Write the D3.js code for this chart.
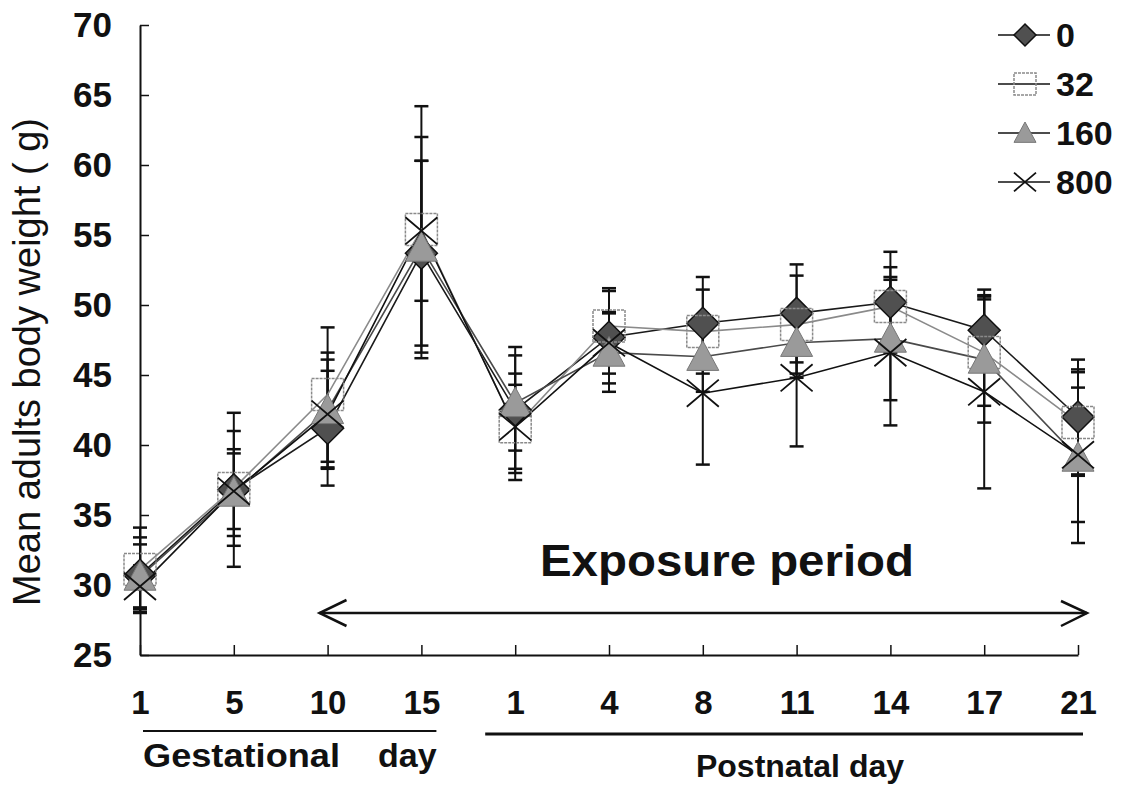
<!DOCTYPE html>
<html>
<head>
<meta charset="utf-8">
<script src="https://cdn.jsdelivr.net/npm/d3@7"></script>
<style>
  body { margin: 0; background: #fff; }
  svg { display: block; }
  text { fill: #111; }
</style>
</head>
<body>
<div id="chart"></div>
<script>
// day labels along the x axis (gestational 1-15, then postnatal 1-21)
const dayLabels = ['1', '5', '10', '15', '1', '4', '8', '11', '14', '17', '21'];
const doses = ['0', '32', '160', '800'];

// mean body weight (g) per dose group
const mean0   = [30.7, 36.8, 41.2, 53.7, 42.5, 47.7, 48.7, 49.4, 50.2, 48.2, 42.0];
const mean32  = [31.1, 36.9, 43.6, 55.4, 41.3, 48.5, 48.1, 48.6, 49.9, 46.6, 41.6];
const mean160 = [30.6, 36.6, 42.5, 54.1, 43.0, 46.6, 46.3, 47.3, 47.6, 46.1, 39.1];
const mean800 = [29.9, 36.7, 42.2, 55.3, 41.3, 47.3, 43.7, 44.8, 46.6, 43.8, 39.3];

// standard deviations
const sd0   = [2.7, 5.5, 4.1, 6.6, 4.5, 3.3, 3.3, 3.5, 3.6, 2.9, 4.1];
const sd32  = [3.0, 4.1, 4.8, 8.8, 3.8, 2.7, 3.0, 3.5, 2.8, 3.8, 3.8];
const sd160 = [2.3, 3.1, 4.1, 7.9, 3.4, 2.8, 2.5, 2.5, 4.4, 4.5, 6.1];
const sd800 = [1.5, 2.7, 3.9, 5.0, 3.0, 2.2, 5.1, 4.9, 5.2, 6.9, 4.8];

const yTicks = [25, 30, 35, 40, 45, 50, 55, 60, 65, 70];

const width = 1127, height = 788;
const svg = d3.select('#chart').append('svg')
    .attr('width', width)
    .attr('height', height);

const x = d3.scalePoint().domain(d3.range(dayLabels.length)).range([140, 1078]);
const y = d3.scaleLinear().domain([25, 70]).range([655, 25]);

const series = [
    {name: doses[0], mean: mean0, sd: sd0, shape: 'diamond', line: '#1a1a1a'},
    {name: doses[1], mean: mean32, sd: sd32, shape: 'square', line: '#8a8a8a'},
    {name: doses[2], mean: mean160, sd: sd160, shape: 'triangle', line: '#4a4a4a'},
    {name: doses[3], mean: mean800, sd: sd800, shape: 'cross', line: '#111'}
];

const sans = '"Liberation Sans", Arial, sans-serif';

// axes
const yAxis = svg.append('g')
    .attr('transform', `translate(${x(0)},0)`)
    .call(d3.axisLeft(y).tickValues(yTicks).tickSizeInner(-9).tickSizeOuter(0).tickPadding(28));
yAxis.selectAll('text')
    .style('font-family', sans)
    .style('font-weight', 'bold')
    .style('font-size', '35px');

const xAxis = svg.append('g')
    .attr('transform', `translate(0,${y(25)})`)
    .call(d3.axisBottom(x).tickFormat(i => dayLabels[i]).tickSizeInner(-10).tickSizeOuter(0).tickPadding(36));
xAxis.selectAll('text')
    .style('font-family', sans)
    .style('font-weight', 'bold')
    .style('font-size', '33px');

svg.selectAll('.domain').attr('stroke', '#111').attr('stroke-width', 2);
svg.selectAll('.tick line').attr('stroke', '#111').attr('stroke-width', 1.5);

// y axis title
svg.append('text')
    .attr('transform', `translate(40,362) rotate(-90)`)
    .attr('text-anchor', 'middle')
    .style('font-family', sans)
    .style('font-size', '38px')
    .text('Mean adults body weight ( g)');

// period brackets under the x axis
const under = svg.append('g').attr('stroke', '#111');
under.append('line')
    .attr('x1', x(0) + 3).attr('x2', x(3) + 15)
    .attr('y1', 731).attr('y2', 731)
    .attr('stroke-width', 2);
under.append('line')
    .attr('x1', x(4) - 30).attr('x2', x(10) + 5)
    .attr('y1', 734).attr('y2', 734)
    .attr('stroke-width', 3);

svg.append('text')
    .attr('x', 143).attr('y', 767)
    .attr('textLength', 197).attr('lengthAdjust', 'spacingAndGlyphs')
    .style('font-family', sans)
    .style('font-weight', 'bold')
    .style('font-size', '34px')
    .text('Gestational');
svg.append('text')
    .attr('x', 378).attr('y', 767)
    .style('font-family', sans)
    .style('font-weight', 'bold')
    .style('font-size', '34px')
    .text('day');
svg.append('text')
    .attr('x', 800).attr('y', 777)
    .attr('text-anchor', 'middle')
    .style('font-family', sans)
    .style('font-weight', 'bold')
    .style('font-size', '32px')
    .text('Postnatal day');

// exposure period arrow
const arrowY = 613;
const ax1 = (x(2) + x(3)) / 2 - 55, ax2 = x(10) + 9;
const arrow = svg.append('g').attr('stroke', '#111').attr('fill', 'none').attr('stroke-width', 2.5);
arrow.append('line').attr('x1', ax1).attr('x2', ax2).attr('y1', arrowY).attr('y2', arrowY);
arrow.append('path').attr('d', `M${ax1 + 27},${arrowY - 13}L${ax1},${arrowY}L${ax1 + 27},${arrowY + 13}`);
arrow.append('path').attr('d', `M${ax2 - 26},${arrowY - 12}L${ax2},${arrowY}L${ax2 - 26},${arrowY + 13}`);

svg.append('text')
    .attr('x', 540).attr('y', 576)
    .attr('textLength', 374).attr('lengthAdjust', 'spacingAndGlyphs')
    .style('font-family', sans)
    .style('font-weight', 'bold')
    .style('font-size', '45px')
    .text('Exposure period');

// marker drawing
function drawMarker(g, shape, s) {
    if (shape === 'diamond') {
        g.append('path')
            .attr('d', `M0,${-s}L${s},0L0,${s}L${-s},0Z`)
            .attr('fill', '#505050').attr('stroke', '#111').attr('stroke-width', 1.5);
    } else if (shape === 'square') {
        g.append('rect')
            .attr('x', -s).attr('y', -s).attr('width', 2 * s).attr('height', 2 * s)
            .attr('fill', 'none').attr('stroke', '#8a8a8a').attr('stroke-width', 1.5)
            .attr('stroke-dasharray', '3,1');
    } else if (shape === 'triangle') {
        g.append('path')
            .attr('d', `M0,${-s}L${s},${s * 0.85}L${-s},${s * 0.85}Z`)
            .attr('fill', '#9a9a9a').attr('stroke', '#777').attr('stroke-width', 1);
    } else {
        g.append('path')
            .attr('d', `M${-s},${-s * 0.85}L${s},${s * 0.85}M${-s},${s * 0.85}L${s},${-s * 0.85}`)
            .attr('stroke', '#111').attr('stroke-width', 1.8).attr('fill', 'none');
    }
}

// error bars
const bars = svg.append('g').attr('stroke', '#111');
series.forEach(sr => {
    sr.mean.forEach((m, i) => {
        const g = bars.append('g');
        g.append('line')
            .attr('x1', x(i)).attr('x2', x(i))
            .attr('y1', y(m + sr.sd[i])).attr('y2', y(m - sr.sd[i]))
            .attr('stroke-width', 2);
        [m + sr.sd[i], m - sr.sd[i]].forEach(v => {
            g.append('line')
                .attr('x1', x(i) - 7).attr('x2', x(i) + 7)
                .attr('y1', y(v)).attr('y2', y(v))
                .attr('stroke-width', 2.5);
        });
    });
});

// lines
const line = d3.line().x((d, i) => x(i)).y(d => y(d));
series.forEach(sr => {
    svg.append('path')
        .datum(sr.mean)
        .attr('d', line)
        .attr('fill', 'none')
        .attr('stroke', sr.line)
        .attr('stroke-width', 1.6);
});

// markers
series.forEach(sr => {
    svg.append('g').selectAll('g')
        .data(sr.mean)
        .join('g')
        .attr('transform', (d, i) => `translate(${x(i)},${y(d)})`)
        .each(function () { drawMarker(d3.select(this), sr.shape, 16); });
});

// legend
const legend = svg.append('g').attr('transform', 'translate(998,35)');
series.forEach((sr, k) => {
    const row = legend.append('g').attr('transform', `translate(0,${k * 49})`);
    row.append('line').attr('x1', 0).attr('x2', 52).attr('y1', 0).attr('y2', 0)
        .attr('stroke', '#111').attr('stroke-width', 1.5);
    const m = row.append('g').attr('transform', 'translate(27,0)');
    drawMarker(m, sr.shape, 11);
    row.append('text')
        .attr('x', 58).attr('y', 12)
        .style('font-family', sans)
        .style('font-weight', 'bold')
        .style('font-size', '34px')
        .text(sr.name);
});
</script>
</body>
</html>
